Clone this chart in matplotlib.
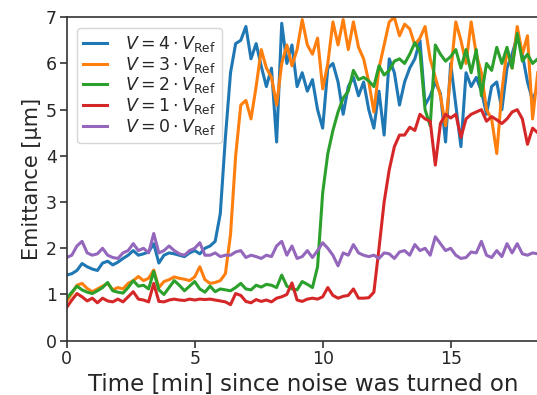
import numpy as np
import matplotlib
matplotlib.use("Agg")
import matplotlib.pyplot as plt

time_min = np.round(np.arange(0, 18.41, 0.2), 1)

# emittance [um]
emit_v4 = [1.42, 1.45, 1.52, 1.67, 1.60, 1.55, 1.52, 1.68, 1.72, 1.64,
           1.70, 1.78, 1.85, 1.95, 1.85, 1.88, 1.92, 2.10, 1.68, 1.85,
           1.90, 1.88, 1.85, 1.82, 1.90, 1.95, 1.88, 2.00, 2.05, 2.15,
           2.75, 4.40, 5.80, 6.43, 6.50, 6.80, 6.10, 6.43, 5.94, 5.50,
           5.90, 4.30, 6.87, 6.00, 6.40, 5.50, 5.80, 5.40, 5.65, 5.00,
           4.60, 5.90, 6.00, 5.60, 4.90, 5.50, 5.70, 5.30, 5.60, 5.00,
           4.60, 5.40, 4.45, 6.10, 5.80, 5.10, 5.60, 5.90, 6.10, 6.50,
           5.10, 5.30, 5.60, 5.35, 4.30, 6.00, 5.10, 4.20, 5.80, 5.50,
           5.70, 5.40, 4.90, 5.50, 5.60, 5.00, 5.90, 6.20, 6.60, 6.20,
           5.60, 5.20, 5.50]
emit_v3 = [0.85, 1.02, 1.20, 1.24, 1.13, 1.06, 1.12, 1.18, 1.24, 1.10,
           1.15, 1.12, 1.24, 1.30, 1.39, 1.30, 1.35, 1.53, 1.15, 1.28,
           1.32, 1.38, 1.35, 1.33, 1.30, 1.38, 1.60, 1.32, 1.24, 1.26,
           1.30, 1.45, 2.30, 4.00, 5.10, 5.20, 4.80, 5.50, 6.30, 5.90,
           5.70, 5.10, 6.00, 6.40, 5.95, 6.30, 6.95, 6.40, 6.20, 6.55,
           5.45, 6.00, 6.90, 6.40, 6.95, 6.30, 6.90, 6.35, 6.10, 5.60,
           4.95, 5.90, 6.40, 6.90, 7.00, 6.60, 6.85, 6.75, 6.40, 6.55,
           6.80, 6.10, 5.70, 5.30, 4.65, 5.80, 6.90, 6.50, 6.00, 6.90,
           6.20, 5.80, 5.00, 4.80, 4.05, 5.40, 6.30, 5.90, 6.80, 6.20,
           6.60, 4.80, 5.80]
emit_v2 = [0.92, 1.05, 1.18, 1.10, 1.05, 1.02, 1.08, 1.15, 1.26, 1.08,
           1.05, 1.03, 1.15, 1.30, 1.18, 1.20, 1.12, 1.50, 1.10, 1.00,
           1.15, 1.30, 1.20, 1.08, 1.18, 1.28, 1.12, 1.05, 1.18, 1.06,
           1.12, 1.10, 1.08, 1.15, 1.24, 1.12, 1.10, 1.20, 1.16, 1.22,
           1.20, 1.15, 1.42, 1.18, 1.12, 1.10, 1.28, 1.22, 1.15, 1.60,
           3.20, 4.05, 4.55, 4.95, 5.25, 5.40, 5.85, 5.65, 5.70, 5.62,
           5.50, 5.95, 5.75, 5.85, 6.05, 6.10, 6.00, 6.20, 6.45, 6.25,
           5.00, 4.65, 6.40, 6.20, 6.05, 6.15, 6.30, 5.90, 6.30, 5.80,
           6.30, 5.30, 6.00, 5.85, 6.35, 6.00, 6.35, 5.90, 6.65, 6.05,
           6.20, 6.00, 6.10]
emit_v1 = [0.72, 0.88, 1.02, 0.95, 0.86, 0.92, 0.82, 0.92, 0.86, 0.84,
           0.90, 0.84, 0.95, 1.06, 0.90, 0.88, 0.84, 1.24, 0.85, 0.84,
           0.88, 0.90, 0.88, 0.87, 0.90, 0.88, 0.90, 0.89, 0.90, 0.88,
           0.86, 0.84, 0.78, 1.02, 0.98, 0.85, 0.82, 0.89, 0.85, 0.88,
           0.84, 0.92, 0.95, 1.00, 1.25, 0.88, 0.85, 0.90, 0.92, 0.90,
           0.95, 1.15, 0.98, 0.92, 0.96, 0.98, 1.12, 0.92, 0.92, 0.93,
           1.05, 2.00, 3.00, 3.70, 4.20, 4.45, 4.45, 4.62, 4.55, 4.90,
           4.80, 4.75, 3.80, 4.70, 4.90, 4.82, 4.90, 4.40, 4.80, 4.90,
           4.95, 5.00, 4.75, 4.85, 4.78, 4.70, 4.80, 4.95, 5.00, 4.80,
           4.25, 4.60, 4.50]
emit_v0 = [1.80, 1.85, 2.05, 2.15, 1.90, 1.85, 1.88, 2.00, 1.85, 1.80,
           1.78, 1.90, 1.95, 2.10, 1.95, 2.00, 1.90, 2.32, 1.90, 1.95,
           2.05, 1.95, 1.88, 1.85, 1.95, 2.00, 2.12, 1.85, 1.85, 1.90,
           1.82, 1.85, 1.85, 1.92, 1.95, 1.80, 1.85, 1.82, 1.78, 1.85,
           1.82, 2.05, 2.15, 1.85, 2.05, 1.78, 1.82, 1.95, 1.80, 1.95,
           2.12, 2.00, 1.85, 1.62, 1.90, 1.85, 2.08, 1.90, 1.85, 1.82,
           1.85, 1.78, 1.90, 1.88, 1.78, 1.92, 1.95, 1.85, 2.08, 1.95,
           2.00, 1.85, 2.25, 2.10, 1.95, 2.00, 1.85, 1.78, 1.80, 1.92,
           1.90, 2.15, 1.85, 1.80, 1.95, 1.82, 2.10, 1.90, 2.10, 1.88,
           1.85, 1.90, 1.88]

factors = [4, 3, 2, 1, 0]
series = [emit_v4, emit_v3, emit_v2, emit_v1, emit_v0]
colors = ["#1f77b4", "#ff7f0e", "#2ca02c", "#d62728", "#9467bd"]

text_c = "#262626"
plt.rcParams["font.family"] = "DejaVu Sans"
plt.rcParams["mathtext.fontset"] = "dejavusans"

fig = plt.figure(figsize=(5.37, 3.95), dpi=100)
ax = fig.add_axes([0.1242, 0.1375, 0.8819, 0.8188])

for f, y, c in zip(factors, series, colors):
    ax.plot(time_min, y, color=c, linewidth=2.2,
            label=r"$V = %d \cdot V_\mathrm{Ref}$" % f)

ax.set_xlim(0, 18.5)
ax.set_ylim(0, 7)
ax.set_xticks([0, 5, 10, 15])
ax.set_yticks(range(8))

for s in ax.spines.values():
    s.set_color("0.2")
    s.set_linewidth(1.2)
ax.tick_params(direction="out", length=5, width=1.2, colors="0.2",
               labelsize=12.5, labelcolor=text_c, pad=2)

ax.set_xlabel("Time [min] since noise was turned on", fontsize=16.5,
              color=text_c, labelpad=3)
ax.set_ylabel("Emittance [μm]", fontsize=15, color=text_c, labelpad=3)

leg = ax.legend(loc="upper left", fontsize=12.5, handlelength=1.4,
                handletextpad=1.0, labelspacing=0.05, borderaxespad=0.6,
                borderpad=0.35, frameon=True, fancybox=True, framealpha=0.8,
                edgecolor="0.8")
for t in leg.get_texts():
    t.set_color(text_c)

fig.savefig("out.png", dpi=100)
